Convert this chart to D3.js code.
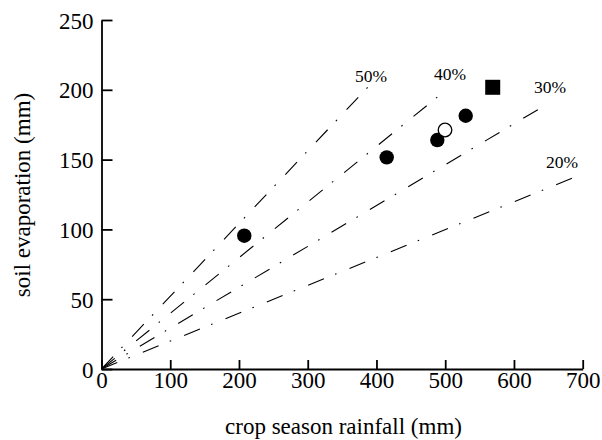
<!DOCTYPE html>
<html><head><meta charset="utf-8">
<script src="https://cdn.jsdelivr.net/npm/d3@7"></script>
<style>body{margin:0;background:#fff}svg{display:block}text{font-family:"Liberation Serif","Times New Roman",serif;fill:#000}</style>
</head><body><svg id="c" width="602" height="440"></svg>
<script>
const xTicks=[0,100,200,300,400,500,600,700];
const yTicks=[0,50,100,150,200,250];
const lineLabels=["50%","40%","30%","20%"];
const lineEndX=[387.7,492.4,637.9,688.8];
const lineEndY=[202,196.3,186.7,137.5];
const filledX=[207.7,414.9,488.5,529.8];
const filledY=[95.5,151.6,164,181.4];
const openX=[499.7];
const openY=[171.2];
const squareX=[569.1];
const squareY=[201.8];

const svg=d3.select("#c");
const x=d3.scaleLinear().domain([0,700]).range([101.5,582.7]);
const y=d3.scaleLinear().domain([0,250]).range([369,20]);

// reference lines
const lg=d3.line().x(d=>x(d[0])).y(d=>y(d[1]));
lineEndX.forEach((ex,i)=>{
  svg.append("path").attr("d",lg([[0,0],[ex,lineEndY[i]]]))
    .attr("fill","none").attr("stroke","#000").attr("stroke-width",1.1)
    .attr("stroke-dasharray","17,12,1.6,14");
});
// line labels
const labPos=[[371,82],[450,80],[550,93],[562,168]];
lineLabels.forEach((t,i)=>{
  svg.append("text").attr("x",labPos[i][0]).attr("y",labPos[i][1])
    .attr("text-anchor","middle").attr("font-size",17.5).text(t);
});

// axes
const xa=svg.append("g").attr("transform",`translate(0,${y(0)})`)
  .call(d3.axisBottom(x).tickValues(xTicks).tickSizeInner(-9).tickSizeOuter(0).tickPadding(3).tickFormat(d3.format("d")));
const ya=svg.append("g").attr("transform",`translate(${x(0)},0)`)
  .call(d3.axisLeft(y).tickValues(yTicks).tickSizeInner(-11).tickSizeOuter(0).tickPadding(8).tickFormat(d3.format("d")));
[xa,ya].forEach(a=>{
  a.select(".domain").attr("stroke","#000").attr("stroke-width",1.8);
  a.selectAll(".tick line").attr("stroke","#000").attr("stroke-width",1.8);
  a.selectAll(".tick text").attr("font-size",23).attr("font-family","Liberation Serif").attr("fill","#000");
});
ya.selectAll(".tick text").attr("dy","0.35em");
xa.selectAll(".tick text").attr("dy","0.71em");

// points
svg.selectAll("circle.f").data(filledX).join("circle").attr("class","f")
  .attr("cx",d=>x(d)).attr("cy",(d,i)=>y(filledY[i])).attr("r",7.2).attr("fill","#000");
svg.selectAll("circle.o").data(openX).join("circle").attr("class","o")
  .attr("cx",d=>x(d)).attr("cy",(d,i)=>y(openY[i])).attr("r",6.8).attr("fill","#fff").attr("stroke","#000").attr("stroke-width",1.3);
svg.selectAll("rect.s").data(squareX).join("rect").attr("class","s")
  .attr("x",d=>x(d)-7.5).attr("y",(d,i)=>y(squareY[i])-7.5).attr("width",15).attr("height",15).attr("fill","#000");

// axis titles
svg.append("text").attr("x",343.5).attr("y",434).attr("text-anchor","middle").attr("font-size",23).text("crop season rainfall (mm)");
svg.append("text").attr("transform","translate(30,195) rotate(-90)").attr("text-anchor","middle").attr("font-size",23).text("soil evaporation (mm)");
</script></body></html>
